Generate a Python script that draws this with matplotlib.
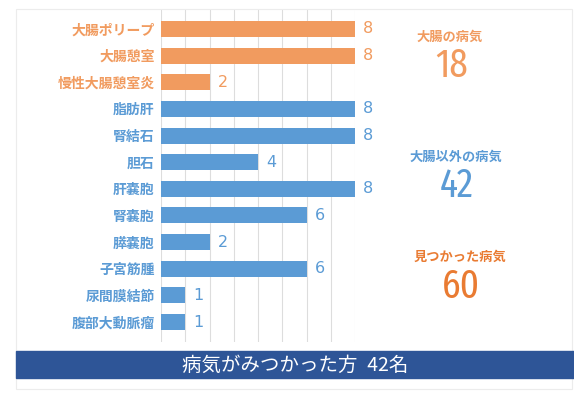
import matplotlib
matplotlib.use("Agg")
import matplotlib.pyplot as plt
from matplotlib import font_manager
from matplotlib.patches import Rectangle

# データ
diseases = ['大腸ポリープ', '大腸憩室', '慢性大腸憩室炎', '脂肪肝', '腎結石', '胆石',
            '肝嚢胞', '腎嚢胞', '膵嚢胞', '子宮筋腫', '尿間膜結節', '腹部大動脈瘤']
counts = [8, 8, 2, 8, 8, 4, 8, 6, 2, 6, 1, 1]
groups = ['colon'] * 3 + ['other'] * 9

summary_titles = ['大腸の病気', '大腸以外の病気', '見つかった病気']
summary_values = ['18', '42', '60']
banner_text = '病気がみつかった方\u200242名'

ORANGE = '#F19B5F'
BLUE = '#5B9BD5'
DARK_ORANGE = '#E97B32'
NAVY = '#2E5597'
colors = {'colon': ORANGE, 'other': BLUE}

jp = ['Noto Sans CJK JP', 'DejaVu Sans']


def find_condensed():
    # 縦長の数字用に condensed フォントを探す (なければ DejaVu Sans)
    # ファイル名で太さを判断する
    skip = ('italic', 'oblique', 'semi', 'ultra', 'bold', 'black', 'light', 'thin', 'medium')
    cands = []
    for f in font_manager.fontManager.ttflist:
        fn = f.fname.lower().rsplit('/', 1)[-1]
        if 'condensed' not in fn or any(k in fn for k in skip):
            continue
        rank = 0 if 'extracondensed' in fn else 1
        cands.append((rank, fn, f.fname))
    if cands:
        cands.sort()
        return font_manager.FontProperties(fname=cands[0][2])
    return font_manager.FontProperties(family='DejaVu Sans')


num_prop = find_condensed()

W, H = 574, 398
fig = plt.figure(figsize=(W / 100, H / 100), dpi=100)
fig.patch.set_facecolor('white')


def px(x, y):
    # ピクセル座標 (左上原点) -> figure 座標
    return x / W, 1 - y / H


# 外枠
fig.patches.append(Rectangle((16 / W, 1 - 389 / H), 556 / W, 380 / H,
                             transform=fig.transFigure, fill=False,
                             edgecolor='#ececec', lw=0.8))

ax = fig.add_axes([161 / W, 1 - 342 / H, 194 / W, 333 / H])
ypos = list(range(len(diseases)))
bar_colors = [colors[g] for g in groups]
ax.barh(ypos, counts, height=0.6, color=bar_colors, zorder=2)
ax.set_xlim(0, 8)
ax.set_ylim(len(diseases) - 0.25, -0.75)
ax.set_xticks(range(0, 9))
ax.grid(axis='x', color='#dddddd', lw=0.8, zorder=0)
ax.tick_params(left=False, bottom=False, labelbottom=False)
ax.set_yticks(ypos)
ax.set_yticklabels(diseases, family=jp, fontsize=10, fontweight='bold')
for lbl, c in zip(ax.get_yticklabels(), bar_colors):
    lbl.set_color(c)
ax.tick_params(axis='y', pad=1)
for s in ax.spines.values():
    s.set_visible(False)

for y, v, c in zip(ypos, counts, bar_colors):
    ax.annotate(str(v), (v, y), xytext=(6, 0), textcoords='offset points',
                va='center', ha='left', fontsize=11.5, color=c, clip_on=False)

# 右側の集計
title_pos = [(450, 37), (456, 157), (460, 257)]
value_pos = [(452, 66), (457, 186), (461, 287)]
sum_colors = [ORANGE, BLUE, DARK_ORANGE]
for t, v, tp, vp, c in zip(summary_titles, summary_values, title_pos, value_pos, sum_colors):
    fig.text(*px(*tp), t, family=jp, fontsize=9.5, fontweight='bold', color=c,
             ha='center', va='center')
    fig.text(*px(*vp), v, fontproperties=num_prop, fontsize=29, color=c,
             ha='center', va='center')

# 下の帯
fig.patches.append(Rectangle((16 / W, 1 - 378 / H), 558 / W, 27 / H,
                             transform=fig.transFigure, color=NAVY, zorder=3))
fig.text(*px(295, 365), banner_text, family=jp, fontsize=14, color='white',
         ha='center', va='center', zorder=4)

fig.savefig('out.png', dpi=100)
